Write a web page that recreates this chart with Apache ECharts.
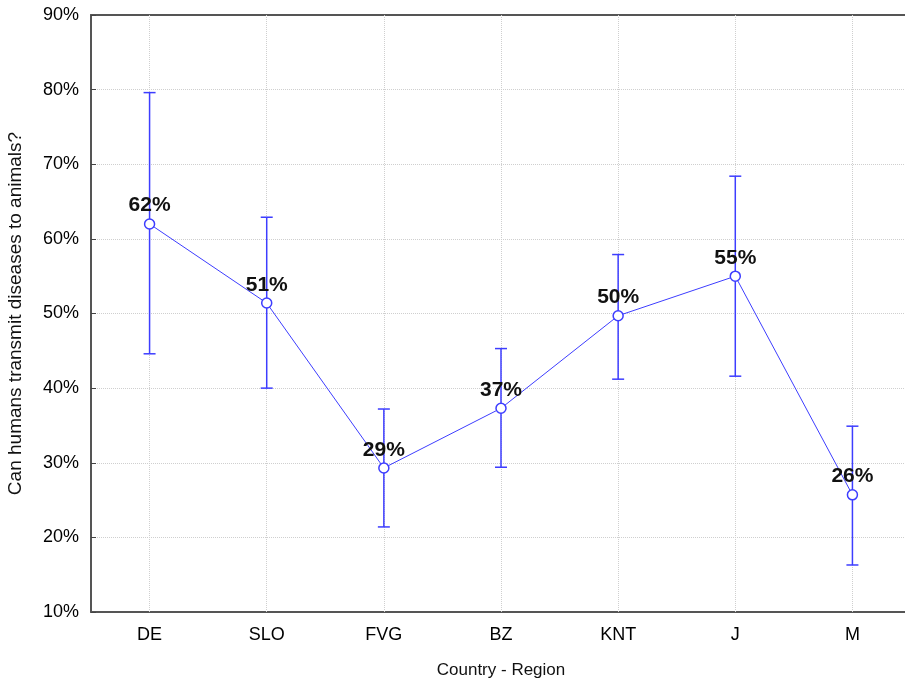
<!DOCTYPE html>
<html><head><meta charset="utf-8">
<script src="https://cdn.jsdelivr.net/npm/echarts@6/dist/echarts.min.js"></script>
<style>html,body{margin:0;padding:0;background:#fff}#c{width:905px;height:682px}</style>
</head><body><div id="c"></div>
<script>
var categories = ['DE','SLO','FVG','BZ','KNT','J','M'];
var means = [62.0, 51.4, 29.3, 37.3, 49.7, 55.0, 25.7];
var lowers = [44.6, 40.0, 21.4, 29.4, 41.2, 41.6, 16.3];
var uppers = [79.6, 62.9, 37.2, 45.3, 57.9, 68.4, 34.9];
var yTicks = [10,20,30,40,50,60,70,80,90];

var blue = '#3d3dff';
var font = 'Liberation Sans, Arial, sans-serif';
var chart = echarts.init(document.getElementById('c'));
var errData = categories.map(function(c,i){return [i, lowers[i], uppers[i]];});
chart.setOption({
  animation:false,
  grid:{left:91, top:15, height:597, width:820, containLabel:false, outerBoundsMode:'none'},
  xAxis:[{
    type:'category', data:categories, boundaryGap:true,
    name:'Country - Region', nameLocation:'middle', nameGap:50,
    nameTextStyle:{fontFamily:font, fontSize:17, color:'#111'},
    axisLine:{lineStyle:{color:'#555', width:2}},
    axisTick:{inside:true, length:5, alignWithLabel:true, lineStyle:{color:'#444'}},
    axisLabel:{fontFamily:font, fontSize:18, color:'#000', margin:14},
    splitLine:{show:false}
  },{
    type:'category', data:categories, position:'top', boundaryGap:true,
    axisLine:{lineStyle:{color:'#555', width:2}},
    axisTick:{inside:true, length:5, alignWithLabel:true, lineStyle:{color:'#444'}},
    axisLabel:{show:false}
  }],
  yAxis:{
    type:'value', min:10, max:90, interval:10,
    name:'Can humans transmit diseases to animals?', nameLocation:'middle', nameGap:66,
    nameTextStyle:{fontFamily:font, fontSize:19, color:'#111'},
    axisLine:{show:true, lineStyle:{color:'#555', width:2}},
    axisTick:{show:true, inside:true, length:5, lineStyle:{color:'#444'}},
    axisLabel:{fontFamily:font, fontSize:18, color:'#000', margin:12,
      formatter:function(v){return yTicks.indexOf(v)>=0 ? v+'%' : '';}},
    splitLine:{show:true, lineStyle:{color:'#cfcfcf', type:'dotted'}}
  },
  series:[{
    type:'custom', z:2,
    renderItem:function(params, api){
      var x = api.value(0);
      var lo = api.coord([x, api.value(1)]);
      var hi = api.coord([x, api.value(2)]);
      var w = 6;
      var st = {stroke:blue, lineWidth:1.5, fill:null};
      return {type:'group', children:[
        {type:'line', shape:{x1:lo[0],y1:lo[1],x2:hi[0],y2:hi[1]}, style:st},
        {type:'line', shape:{x1:lo[0]-w,y1:lo[1],x2:lo[0]+w,y2:lo[1]}, style:st},
        {type:'line', shape:{x1:hi[0]-w,y1:hi[1],x2:hi[0]+w,y2:hi[1]}, style:st}
      ]};
    },
    encode:{x:0, y:[1,2]},
    data:errData
  },{
    type:'line', z:3, data:means,
    symbol:'circle', symbolSize:10,
    lineStyle:{color:blue, width:1},
    itemStyle:{color:'#fff', borderColor:blue, borderWidth:1.5},
    label:{show:true, position:'top', distance:2, fontFamily:font, fontSize:21, fontWeight:'bold', color:'#111',
      formatter:function(p){return Math.round(p.value)+'%';}},
    markLine:{
      silent:true, symbol:'none', z:1, label:{show:false},
      lineStyle:{color:'#cfcfcf', type:'dotted', width:1},
      data:categories.map(function(c){return {xAxis:c};})
    }
  }]
});
</script></body></html>
